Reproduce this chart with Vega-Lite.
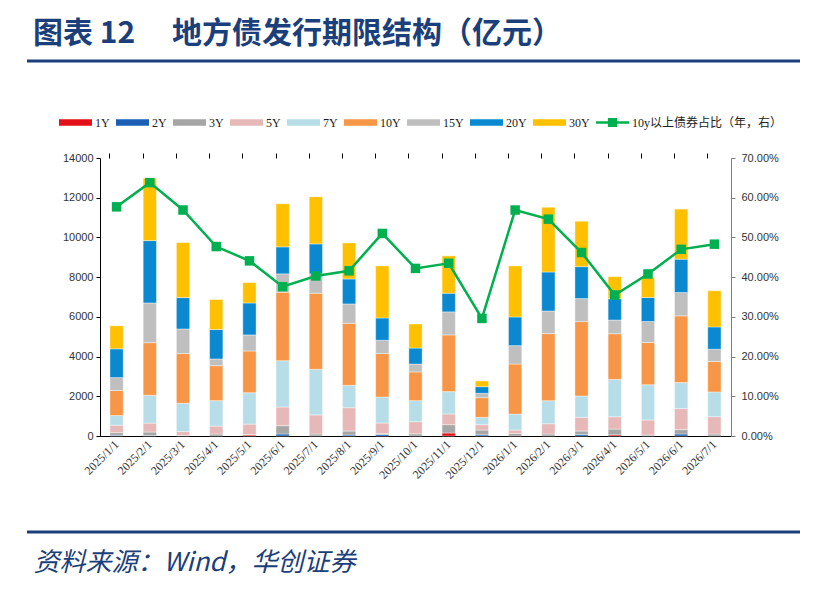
{
  "$schema": "https://vega.github.io/schema/vega-lite/v6.json",
  "autosize": {"type": "none"},
  "width": 631,
  "height": 278,
  "padding": {"left": 100, "top": 158, "right": 86, "bottom": 153},
  "background": "white",
  "title": {
    "text": "图表 12　  地方债发行期限结构（亿元）",
    "anchor": "start",
    "frame": "group",
    "dx": -67,
    "offset": 11,
    "font": "Noto Sans CJK SC",
    "fontSize": 30,
    "fontWeight": "bold",
    "color": "#1B3F7B"
  },
  "config": {
    "view": {"stroke": null},
    "axis": {"grid": false}
  },
  "datasets": {
    "bars": [
      {"month": "2025/1/1", "term": "2Y", "value": 40},
      {"month": "2025/1/1", "term": "3Y", "value": 130},
      {"month": "2025/1/1", "term": "5Y", "value": 370},
      {"month": "2025/1/1", "term": "7Y", "value": 490},
      {"month": "2025/1/1", "term": "10Y", "value": 1260},
      {"month": "2025/1/1", "term": "15Y", "value": 650},
      {"month": "2025/1/1", "term": "20Y", "value": 1450},
      {"month": "2025/1/1", "term": "30Y", "value": 1160},
      {"month": "2025/2/1", "term": "2Y", "value": 30},
      {"month": "2025/2/1", "term": "3Y", "value": 170},
      {"month": "2025/2/1", "term": "5Y", "value": 450},
      {"month": "2025/2/1", "term": "7Y", "value": 1400},
      {"month": "2025/2/1", "term": "10Y", "value": 2650},
      {"month": "2025/2/1", "term": "15Y", "value": 2000},
      {"month": "2025/2/1", "term": "20Y", "value": 3140},
      {"month": "2025/2/1", "term": "30Y", "value": 3140},
      {"month": "2025/3/1", "term": "3Y", "value": 30},
      {"month": "2025/3/1", "term": "5Y", "value": 190},
      {"month": "2025/3/1", "term": "7Y", "value": 1430},
      {"month": "2025/3/1", "term": "10Y", "value": 2500},
      {"month": "2025/3/1", "term": "15Y", "value": 1240},
      {"month": "2025/3/1", "term": "20Y", "value": 1580},
      {"month": "2025/3/1", "term": "30Y", "value": 2770},
      {"month": "2025/4/1", "term": "3Y", "value": 100},
      {"month": "2025/4/1", "term": "5Y", "value": 400},
      {"month": "2025/4/1", "term": "7Y", "value": 1280},
      {"month": "2025/4/1", "term": "10Y", "value": 1760},
      {"month": "2025/4/1", "term": "15Y", "value": 340},
      {"month": "2025/4/1", "term": "20Y", "value": 1480},
      {"month": "2025/4/1", "term": "30Y", "value": 1510},
      {"month": "2025/5/1", "term": "1Y", "value": 50},
      {"month": "2025/5/1", "term": "3Y", "value": 30},
      {"month": "2025/5/1", "term": "5Y", "value": 520},
      {"month": "2025/5/1", "term": "7Y", "value": 1580},
      {"month": "2025/5/1", "term": "10Y", "value": 2100},
      {"month": "2025/5/1", "term": "15Y", "value": 810},
      {"month": "2025/5/1", "term": "20Y", "value": 1610},
      {"month": "2025/5/1", "term": "30Y", "value": 1025},
      {"month": "2025/6/1", "term": "2Y", "value": 100},
      {"month": "2025/6/1", "term": "3Y", "value": 420},
      {"month": "2025/6/1", "term": "5Y", "value": 940},
      {"month": "2025/6/1", "term": "7Y", "value": 2335},
      {"month": "2025/6/1", "term": "10Y", "value": 3445},
      {"month": "2025/6/1", "term": "15Y", "value": 925},
      {"month": "2025/6/1", "term": "20Y", "value": 1360},
      {"month": "2025/6/1", "term": "30Y", "value": 2170},
      {"month": "2025/7/1", "term": "3Y", "value": 100},
      {"month": "2025/7/1", "term": "5Y", "value": 960},
      {"month": "2025/7/1", "term": "7Y", "value": 2300},
      {"month": "2025/7/1", "term": "10Y", "value": 3830},
      {"month": "2025/7/1", "term": "15Y", "value": 975},
      {"month": "2025/7/1", "term": "20Y", "value": 1510},
      {"month": "2025/7/1", "term": "30Y", "value": 2370},
      {"month": "2025/8/1", "term": "2Y", "value": 50},
      {"month": "2025/8/1", "term": "3Y", "value": 200},
      {"month": "2025/8/1", "term": "5Y", "value": 1175},
      {"month": "2025/8/1", "term": "7Y", "value": 1125},
      {"month": "2025/8/1", "term": "10Y", "value": 3125},
      {"month": "2025/8/1", "term": "15Y", "value": 975},
      {"month": "2025/8/1", "term": "20Y", "value": 1260},
      {"month": "2025/8/1", "term": "30Y", "value": 1815},
      {"month": "2025/9/1", "term": "2Y", "value": 80},
      {"month": "2025/9/1", "term": "3Y", "value": 40},
      {"month": "2025/9/1", "term": "5Y", "value": 535},
      {"month": "2025/9/1", "term": "7Y", "value": 1310},
      {"month": "2025/9/1", "term": "10Y", "value": 2185},
      {"month": "2025/9/1", "term": "15Y", "value": 670},
      {"month": "2025/9/1", "term": "20Y", "value": 1125},
      {"month": "2025/9/1", "term": "30Y", "value": 2620},
      {"month": "2025/10/1", "term": "3Y", "value": 110},
      {"month": "2025/10/1", "term": "5Y", "value": 610},
      {"month": "2025/10/1", "term": "7Y", "value": 1060},
      {"month": "2025/10/1", "term": "10Y", "value": 1445},
      {"month": "2025/10/1", "term": "15Y", "value": 400},
      {"month": "2025/10/1", "term": "20Y", "value": 805},
      {"month": "2025/10/1", "term": "30Y", "value": 1210},
      {"month": "2025/11/1", "term": "1Y", "value": 150},
      {"month": "2025/11/1", "term": "3Y", "value": 420},
      {"month": "2025/11/1", "term": "5Y", "value": 540},
      {"month": "2025/11/1", "term": "7Y", "value": 1125},
      {"month": "2025/11/1", "term": "10Y", "value": 2855},
      {"month": "2025/11/1", "term": "15Y", "value": 1160},
      {"month": "2025/11/1", "term": "20Y", "value": 940},
      {"month": "2025/11/1", "term": "30Y", "value": 1880},
      {"month": "2025/12/1", "term": "2Y", "value": 60},
      {"month": "2025/12/1", "term": "3Y", "value": 240},
      {"month": "2025/12/1", "term": "5Y", "value": 270},
      {"month": "2025/12/1", "term": "7Y", "value": 370},
      {"month": "2025/12/1", "term": "10Y", "value": 990},
      {"month": "2025/12/1", "term": "15Y", "value": 220},
      {"month": "2025/12/1", "term": "20Y", "value": 335},
      {"month": "2025/12/1", "term": "30Y", "value": 285},
      {"month": "2026/1/1", "term": "3Y", "value": 130},
      {"month": "2026/1/1", "term": "5Y", "value": 170},
      {"month": "2026/1/1", "term": "7Y", "value": 805},
      {"month": "2026/1/1", "term": "10Y", "value": 2520},
      {"month": "2026/1/1", "term": "15Y", "value": 925},
      {"month": "2026/1/1", "term": "20Y", "value": 1445},
      {"month": "2026/1/1", "term": "30Y", "value": 2570},
      {"month": "2026/2/1", "term": "3Y", "value": 100},
      {"month": "2026/2/1", "term": "5Y", "value": 520},
      {"month": "2026/2/1", "term": "7Y", "value": 1160},
      {"month": "2026/2/1", "term": "10Y", "value": 3375},
      {"month": "2026/2/1", "term": "15Y", "value": 1140},
      {"month": "2026/2/1", "term": "20Y", "value": 1965},
      {"month": "2026/2/1", "term": "30Y", "value": 3260},
      {"month": "2026/3/1", "term": "2Y", "value": 80},
      {"month": "2026/3/1", "term": "3Y", "value": 170},
      {"month": "2026/3/1", "term": "5Y", "value": 690},
      {"month": "2026/3/1", "term": "7Y", "value": 1075},
      {"month": "2026/3/1", "term": "10Y", "value": 3745},
      {"month": "2026/3/1", "term": "15Y", "value": 1160},
      {"month": "2026/3/1", "term": "20Y", "value": 1610},
      {"month": "2026/3/1", "term": "30Y", "value": 2285},
      {"month": "2026/4/1", "term": "1Y", "value": 60},
      {"month": "2026/4/1", "term": "3Y", "value": 290},
      {"month": "2026/4/1", "term": "5Y", "value": 620},
      {"month": "2026/4/1", "term": "7Y", "value": 1880},
      {"month": "2026/4/1", "term": "10Y", "value": 2300},
      {"month": "2026/4/1", "term": "15Y", "value": 690},
      {"month": "2026/4/1", "term": "20Y", "value": 1075},
      {"month": "2026/4/1", "term": "30Y", "value": 1110},
      {"month": "2026/5/1", "term": "3Y", "value": 50},
      {"month": "2026/5/1", "term": "5Y", "value": 755},
      {"month": "2026/5/1", "term": "7Y", "value": 1780},
      {"month": "2026/5/1", "term": "10Y", "value": 2120},
      {"month": "2026/5/1", "term": "15Y", "value": 1060},
      {"month": "2026/5/1", "term": "20Y", "value": 1210},
      {"month": "2026/5/1", "term": "30Y", "value": 1010},
      {"month": "2026/6/1", "term": "2Y", "value": 100},
      {"month": "2026/6/1", "term": "3Y", "value": 220},
      {"month": "2026/6/1", "term": "5Y", "value": 1060},
      {"month": "2026/6/1", "term": "7Y", "value": 1310},
      {"month": "2026/6/1", "term": "10Y", "value": 3360},
      {"month": "2026/6/1", "term": "15Y", "value": 1175},
      {"month": "2026/6/1", "term": "20Y", "value": 1680},
      {"month": "2026/6/1", "term": "30Y", "value": 2520},
      {"month": "2026/7/1", "term": "3Y", "value": 100},
      {"month": "2026/7/1", "term": "5Y", "value": 875},
      {"month": "2026/7/1", "term": "7Y", "value": 1245},
      {"month": "2026/7/1", "term": "10Y", "value": 1530},
      {"month": "2026/7/1", "term": "15Y", "value": 620},
      {"month": "2026/7/1", "term": "20Y", "value": 1125},
      {"month": "2026/7/1", "term": "30Y", "value": 1815}
    ],
    "ratio": [
      {"month": "2025/1/1", "pct": 0.577},
      {"month": "2025/2/1", "pct": 0.638},
      {"month": "2025/3/1", "pct": 0.569},
      {"month": "2025/4/1", "pct": 0.477},
      {"month": "2025/5/1", "pct": 0.441},
      {"month": "2025/6/1", "pct": 0.376},
      {"month": "2025/7/1", "pct": 0.403},
      {"month": "2025/8/1", "pct": 0.416},
      {"month": "2025/9/1", "pct": 0.51},
      {"month": "2025/10/1", "pct": 0.422},
      {"month": "2025/11/1", "pct": 0.435},
      {"month": "2025/12/1", "pct": 0.296},
      {"month": "2026/1/1", "pct": 0.569},
      {"month": "2026/2/1", "pct": 0.546},
      {"month": "2026/3/1", "pct": 0.462},
      {"month": "2026/4/1", "pct": 0.355},
      {"month": "2026/5/1", "pct": 0.408},
      {"month": "2026/6/1", "pct": 0.47},
      {"month": "2026/7/1", "pct": 0.483}
    ]
  },
  "layer": [
    {
      "data": {"name": "bars"},
      "transform": [
        {"calculate": "indexof(['1Y','2Y','3Y','5Y','7Y','10Y','15Y','20Y','30Y'], datum.term)", "as": "rank"}
      ],
      "mark": {"type": "bar", "stroke": "white", "strokeWidth": 0.4},
      "encoding": {
        "x": {
          "field": "month",
          "type": "nominal",
          "sort": null,
          "scale": {"paddingInner": 0.6, "paddingOuter": 0.3},
          "axis": {
            "ticks": false,
            "domainColor": "black",
            "labelAngle": -45,
            "labelAlign": "right",
            "labelBaseline": "middle",
            "labelPadding": 6,
            "labelFont": "Liberation Serif",
            "labelFontSize": 12,
            "labelColor": "#333333",
            "title": "资料来源：Wind，华创证券",
            "titleFont": "Noto Sans CJK SC",
            "titleFontStyle": "italic",
            "titleFontWeight": "normal",
            "titleFontSize": 26,
            "titleColor": "#1B3F7B",
            "titleAlign": "left",
            "titleBaseline": "alphabetic",
            "titleAnchor": "start",
            "titleX": -67,
            "titleY": 134
          }
        },
        "y": {
          "field": "value",
          "type": "quantitative",
          "stack": "zero",
          "scale": {"domain": [0, 14000], "nice": false},
          "axis": {
            "orient": "left",
            "title": null,
            "values": [0, 2000, 4000, 6000, 8000, 10000, 12000, 14000],
            "format": "d",
            "domainColor": "black",
            "tickColor": "black",
            "tickSize": 4,
            "labelPadding": 3,
            "labelFont": "Liberation Sans",
            "labelFontSize": 11,
            "labelColor": "#333333"
          }
        },
        "color": {
          "field": "term",
          "type": "nominal",
          "scale": {
            "domain": ["1Y", "2Y", "3Y", "5Y", "7Y", "10Y", "15Y", "20Y", "30Y", "10y以上债券占比（年，右）"],
            "range": ["#E3101A", "#1A5FB4", "#A6A6A6", "#E6B9B8", "#B7DEE8", "#F79646", "#BFBFBF", "#0A88D0", "#FFC000", "#00B050"]
          },
          "legend": {
            "orient": "none",
            "direction": "horizontal",
            "legendX": -41,
            "legendY": -52,
            "title": null,
            "padding": 0,
            "gridAlign": "none",
            "symbolType": {
              "signal": "datum.value === '10y以上债券占比（年，右）' ? 'M-1,-0.08H1V0.08H-1Z M-0.28,-0.28H0.28V0.28H-0.28Z' : 'M-1,-0.2H1V0.2H-1Z'"
            },
            "symbolSize": 1089,
            "symbolStrokeWidth": 0,
            "symbolOpacity": 1,
            "columnPadding": 6,
            "labelOffset": 3,
            "labelFont": "Liberation Serif, Noto Sans CJK SC",
            "labelFontSize": 12,
            "labelColor": "#222222"
          }
        },
        "order": {"field": "rank", "type": "quantitative", "sort": "ascending"}
      }
    },
    {
      "data": {"name": "ratio"},
      "mark": {
        "type": "line",
        "strokeWidth": 2.5,
        "point": {"shape": "square", "size": 90, "filled": true, "color": "#00B050", "opacity": 1}
      },
      "encoding": {
        "x": {
          "field": "month",
          "type": "nominal",
          "sort": null,
          "axis": {
            "bandPosition": 0,
            "labels": false,
            "domain": false,
            "ticks": true,
            "tickSize": 5,
            "tickColor": "black",
            "title": null
          }
        },
        "y": {
          "field": "pct",
          "type": "quantitative",
          "scale": {"domain": [0, 0.7], "nice": false},
          "axis": {
            "orient": "right",
            "title": null,
            "values": [0, 0.1, 0.2, 0.3, 0.4, 0.5, 0.6, 0.7],
            "format": ".2%",
            "domainColor": "#7F7F7F",
            "tickColor": "#7F7F7F",
            "tickSize": 4,
            "labelPadding": 6,
            "labelFont": "Liberation Sans",
            "labelFontSize": 11,
            "labelColor": "#333333"
          }
        },
        "color": {"datum": "10y以上债券占比（年，右）", "type": "nominal"}
      }
    },
    {
      "data": {"values": [{}]},
      "mark": {"type": "rule", "color": "#1B3F7B", "strokeWidth": 3},
      "encoding": {
        "x": {"value": -73},
        "x2": {"value": 700},
        "y": {"value": -97}
      }
    },
    {
      "data": {"values": [{}]},
      "mark": {"type": "rule", "color": "#1B3F7B", "strokeWidth": 3},
      "encoding": {
        "x": {"value": -73},
        "x2": {"value": 700},
        "y": {"value": 374}
      }
    }
  ],
  "resolve": {
    "scale": {"y": "independent"},
    "axis": {"x": "independent", "y": "independent"}
  }
}
